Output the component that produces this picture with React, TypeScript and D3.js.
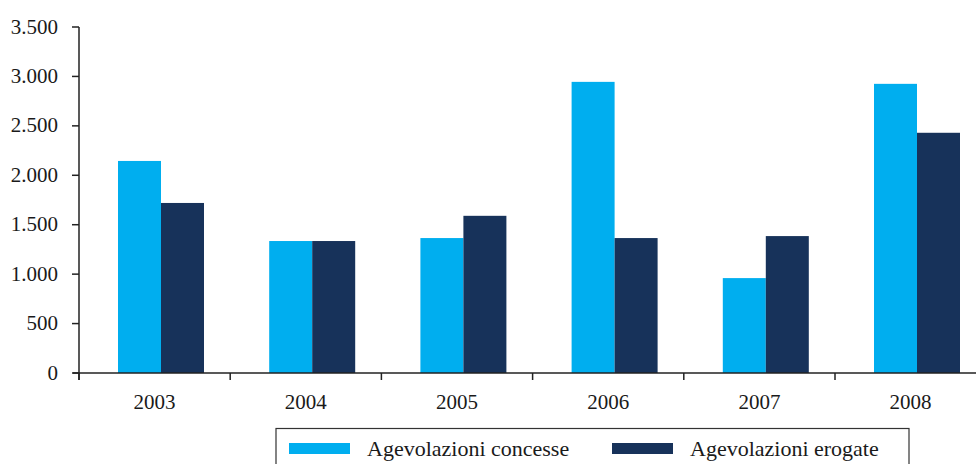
import React, { useEffect, useRef } from "react";
import * as d3 from "d3";

const years = ["2003", "2004", "2005", "2006", "2007", "2008"];
const concesse = [2145, 1335, 1365, 2945, 960, 2925];
const erogate = [1720, 1335, 1590, 1365, 1385, 2430];
const yTicks = [0, 500, 1000, 1500, 2000, 2500, 3000, 3500];
const seriesNames = ["Agevolazioni concesse", "Agevolazioni erogate"];
const colors = ["#00AEEF", "#17325A"];

const W = 976;
const H = 464;
const FONT = "'Liberation Serif', serif";

export default function App() {
  const ref = useRef<SVGSVGElement>(null);
  useEffect(() => {
    const svg = d3.select(ref.current);
    svg.selectAll("*").remove();
    const x0 = 79;
    const step = 151.2;
    const x = d3.scaleBand().domain(years).range([x0, x0 + step * years.length]).padding(0);
    const y = d3.scaleLinear().domain([0, 3500]).range([373, 27]);
    const barW = 43;
    const off = 39;
    const g = svg.append("g");
    const fmt = (v: number) => d3.format(",")(v).replace(/,/g, ".");

    years.forEach((yr, i) => {
      const bx = (x(yr) as number) + off;
      [concesse[i], erogate[i]].forEach((v, s) => {
        g.append("rect")
          .attr("x", bx + s * barW)
          .attr("y", y(v))
          .attr("width", barW)
          .attr("height", y(0) - y(v))
          .attr("fill", colors[s]);
      });
      g.append("text")
        .attr("x", (x(yr) as number) + step / 2)
        .attr("y", 409)
        .attr("text-anchor", "middle")
        .attr("font-family", FONT)
        .attr("font-size", 21)
        .attr("fill", "#1a1a1a")
        .text(yr);
    });

    // y axis
    g.append("line").attr("x1", x0).attr("x2", x0).attr("y1", y(3500)).attr("y2", 380).attr("stroke", "#222").attr("stroke-width", 1.5);
    yTicks.forEach((t) => {
      g.append("line").attr("x1", 72).attr("x2", x0).attr("y1", y(t)).attr("y2", y(t)).attr("stroke", "#222").attr("stroke-width", 1.5);
      g.append("text")
        .attr("x", 58)
        .attr("y", y(t) + 6.5)
        .attr("text-anchor", "end")
        .attr("font-family", FONT)
        .attr("font-size", 21)
        .attr("fill", "#1a1a1a")
        .text(fmt(t));
    });
    // x axis
    g.append("line").attr("x1", 73).attr("x2", x0 + step * years.length).attr("y1", y(0)).attr("y2", y(0)).attr("stroke", "#222").attr("stroke-width", 1.5);
    d3.range(years.length + 1).forEach((i) => {
      const tx = x0 + i * step;
      g.append("line").attr("x1", tx).attr("x2", tx).attr("y1", y(0)).attr("y2", 380).attr("stroke", "#222").attr("stroke-width", 1.5);
    });

    // legend
    g.append("rect").attr("x", 276).attr("y", 428.5).attr("width", 633).attr("height", 50).attr("fill", "none").attr("stroke", "#333").attr("stroke-width", 1.2);
    const lx = [289, 612];
    seriesNames.forEach((n, s) => {
      g.append("rect").attr("x", lx[s]).attr("y", 443).attr("width", 61).attr("height", 11).attr("fill", colors[s]);
      g.append("text")
        .attr("x", lx[s] + 78)
        .attr("y", 456)
        .attr("font-family", FONT)
        .attr("font-size", 22)
        .attr("fill", "#1a1a1a")
        .text(n);
    });
  }, []);
  return <svg ref={ref} width={W} height={H} style={{ position: "absolute", left: 0, top: 0, background: "#fff" }} />;
}
